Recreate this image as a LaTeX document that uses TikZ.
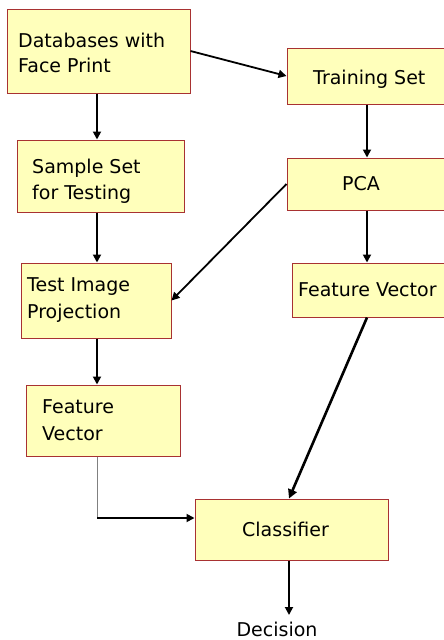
\documentclass[tikz,border=0pt]{standalone}
\usepackage{fontspec}
\setmainfont{DejaVu Sans}
\usetikzlibrary{arrows.meta}
\definecolor{boxfill}{HTML}{FFFFBB}
\definecolor{boxline}{HTML}{A83232}
\tikzset{
  stagebox/.style={draw=boxline, fill=boxfill, line width=1pt, rectangle, inner sep=0pt},
  lbl/.style={font=\fontsize{19}{22}\selectfont, inner sep=0pt, anchor=base west},
  flow/.style={line width=1.8pt, -{Triangle[length=8pt,width=8pt]}},
  heavyflow/.style={line width=2.6pt, -{Triangle[length=9pt,width=9pt]}},
}
\begin{document}
\begin{tikzpicture}[x=1pt,y=-1pt]
  \useasboundingbox (0,0) rectangle (444,640);

  % boxes, placed by their centres
  \node[stagebox, minimum width=183pt, minimum height=84pt] (db)     at (98.5,51)  {};
  \node[stagebox, minimum width=160pt, minimum height=56pt] (train)  at (367,76)   {};
  \node[stagebox, minimum width=167pt, minimum height=72pt] (sample) at (100.5,176) {};
  \node[stagebox, minimum width=160pt, minimum height=52pt] (pca)    at (367,184)  {};
  \node[stagebox, minimum width=150pt, minimum height=75pt] (test)   at (96,300.5) {};
  \node[stagebox, minimum width=160pt, minimum height=54pt] (fvr)    at (372,290)  {};
  \node[stagebox, minimum width=154pt, minimum height=71pt] (fvl)    at (103,420.5) {};
  \node[stagebox, minimum width=193pt, minimum height=61pt] (cls)    at (291.5,529.5) {};

  % box texts
  \node[lbl] (dbA)     at (18,47)   {Databases with};
  \node[lbl] (dbB)     at (18,72)   {Face Print};
  \node[lbl] (trainA)  at (313,84)  {Training Set};
  \node[lbl] (sampleA) at (32,173)  {Sample Set};
  \node[lbl] (sampleB) at (32,199)  {for Testing};
  \node[lbl] (pcaA)    at (342,190) {PCA};
  \node[lbl] (testA)   at (27,291)  {Test Image};
  \node[lbl] (testB)   at (27,318)  {Projection};
  \node[lbl] (fvrA)    at (298,296) {Feature Vector};
  \node[lbl] (fvlA)    at (42,413)  {Feature};
  \node[lbl] (fvlB)    at (42,440)  {Vector};
  \node[lbl] (clsA)    at (242,536) {Classifier};
  \node[lbl, anchor=base] (dec) at (277,636) {Decision};

  % columns and junction for the connectors
  \coordinate (colL) at (97,0);
  \coordinate (colR) at (367,0);
  \coordinate (colC) at (289,0);
  \coordinate (j)    at (97,518);
  \coordinate (decTop) at (289,615);

  % connectors
  \draw[flow] (db.east) -- (train.west);
  \draw[flow] (db.south -| colL) -- (sample.north -| colL);
  \draw[flow] (train.south -| colR) -- (pca.north -| colR);
  \draw[flow] (sample.south -| colL) -- (test.north -| colL);
  \draw[flow] (pca.west) -- (test.east);
  \draw[flow] (pca.south -| colR) -- (fvr.north -| colR);
  \draw[flow] (test.south -| colL) -- (fvl.north -| colL);
  \draw[heavyflow] (fvr.south -| colR) -- (cls.north -| colC);
  \draw[gray, line width=1pt] (fvl.south -| colL) -- (j);
  \draw[flow] (j) -- (j -| cls.west);
  \draw[flow] (cls.south -| colC) -- (decTop);
\end{tikzpicture}
\end{document}
